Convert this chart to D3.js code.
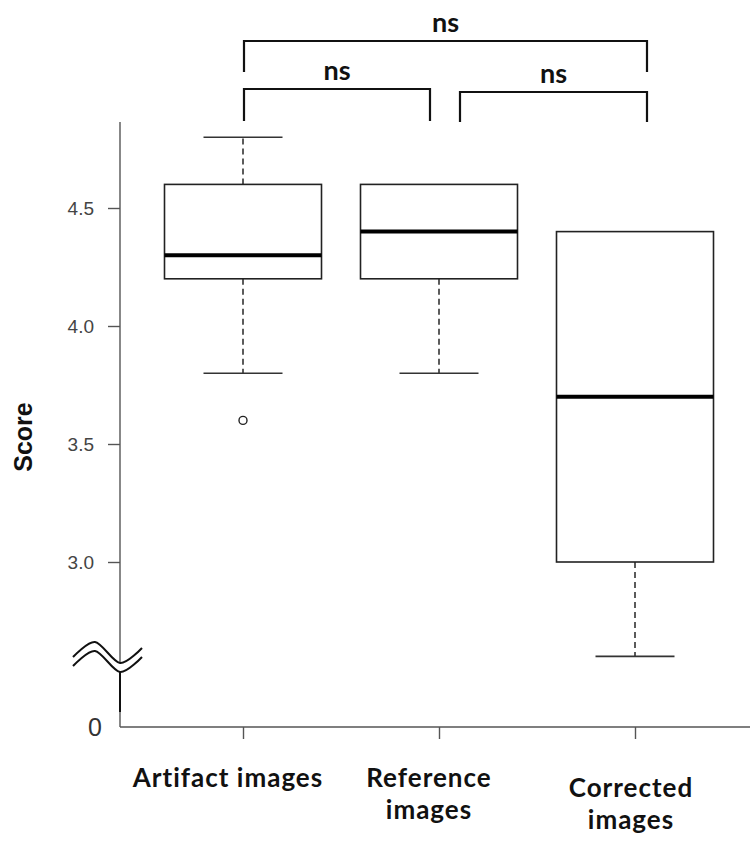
<!DOCTYPE html>
<html>
<head>
<meta charset="utf-8">
<script src="https://cdn.jsdelivr.net/npm/d3@7"></script>
<style>
  body { margin: 0; background: #fff; }
  svg { display: block; }
  .cat { font-family: Lato, "Noto Sans", sans-serif; font-weight: 700; font-size: 26px; letter-spacing: 1px; fill: #111; }
  .sig { font-family: Lato, "Noto Sans", sans-serif; font-weight: 700; font-size: 27px; fill: #111; }
</style>
</head>
<body>
<svg width="750" height="852"></svg>
<script>
const categories = ["Artifact images", "Reference images", "Corrected images"];
const labelLines = [["Artifact images"], ["Reference", "images"], ["Corrected", "images"]];
const q1 = [4.2, 4.2, 3.0];
const medians = [4.3, 4.4, 3.7];
const q3 = [4.6, 4.6, 4.4];
const whiskerLow = [3.8, 3.8, 2.6];
const whiskerHigh = [4.8, 4.6, 4.4];
const outliers = [[3.6], [], []];
const yTicks = [3.0, 3.5, 4.0, 4.5];
// pairwise comparisons: [from, to, label]
const comparisons = [
  ["Artifact images", "Corrected images", "ns"],
  ["Artifact images", "Reference images", "ns"],
  ["Reference images", "Corrected images", "ns"],
];

const svg = d3.select("svg");

const axisX = 120, axisTop = 122, axisBottom = 727;

const x = d3.scalePoint().domain(categories).range([243, 635]);
const y = d3.scaleLinear().domain([3.0, 4.5]).range([562, 208]);
const boxW = 157, capW = 79;

// y axis line + ticks
svg.append("line")
  .attr("x1", axisX).attr("x2", axisX)
  .attr("y1", axisTop).attr("y2", axisBottom)
  .attr("stroke", "#555").attr("stroke-width", 1.4);

const yAxis = svg.append("g")
  .attr("transform", `translate(${axisX},0)`)
  .call(d3.axisLeft(y).tickValues(yTicks).tickSize(12).tickPadding(14).tickFormat(d3.format(".1f")));
yAxis.select(".domain").remove();
yAxis.selectAll(".tick line").attr("stroke", "#555").attr("stroke-width", 1.4);
yAxis.selectAll(".tick text")
  .attr("fill", "#444")
  .style("font-family", "'Liberation Sans', Arial, sans-serif")
  .style("font-size", "19px");

// "0" at origin
svg.append("text")
  .attr("x", 95).attr("y", axisBottom + 9)
  .attr("text-anchor", "middle")
  .style("font-family", "'Liberation Sans', Arial, sans-serif")
  .style("font-size", "25px").attr("fill", "#333")
  .text("0");

// x axis
svg.append("line")
  .attr("x1", axisX).attr("x2", 750)
  .attr("y1", axisBottom).attr("y2", axisBottom)
  .attr("stroke", "#555").attr("stroke-width", 1.4);

const xAxis = svg.append("g")
  .attr("transform", `translate(0,${axisBottom})`)
  .call(d3.axisBottom(x).tickSize(12).tickFormat(""));
xAxis.select(".domain").remove();
xAxis.selectAll(".tick line").attr("stroke", "#555").attr("stroke-width", 1.4);

const labelShift = [-15, -10, -4];
const labelBase = [787, 787, 797];
categories.forEach((c, i) => {
  labelLines[i].forEach((line, j) => {
    svg.append("text")
      .attr("class", "cat")
      .attr("text-anchor", "middle")
      .attr("x", x(c) + labelShift[i])
      .attr("y", labelBase[i] + j * 32)
      .text(line);
  });
});

// axis break
const by = 663;
const wave = d3.line().curve(d3.curveCardinal.tension(0.1));
const upper = [[-47, -6], [-25, -21], [0, 0], [22, -15]].map(([dx, dy]) => [axisX + dx, by + dy]);
const lower = upper.map(([px, py]) => [px, py + 9]);
svg.append("path")
  .attr("d", wave(upper) + "L" + wave(lower.slice().reverse()).slice(1) + "Z")
  .attr("fill", "#fff").attr("stroke", "none");
[upper, lower].forEach(pts => {
  svg.append("path").attr("d", wave(pts))
    .attr("fill", "none").attr("stroke", "#111").attr("stroke-width", 2);
});
svg.append("line")
  .attr("x1", axisX).attr("x2", axisX)
  .attr("y1", by + 9).attr("y2", 712)
  .attr("stroke", "#111").attr("stroke-width", 2);

// boxes
categories.forEach((c, i) => {
  const cx = x(c);
  const g = svg.append("g");
  if (whiskerHigh[i] > q3[i]) {
    g.append("line").attr("x1", cx).attr("x2", cx)
      .attr("y1", y(q3[i])).attr("y2", y(whiskerHigh[i]))
      .attr("stroke", "#333").attr("stroke-width", 1.6).attr("stroke-dasharray", "6,4");
    g.append("line").attr("x1", cx - capW / 2).attr("x2", cx + capW / 2)
      .attr("y1", y(whiskerHigh[i])).attr("y2", y(whiskerHigh[i]))
      .attr("stroke", "#333").attr("stroke-width", 1.6);
  }
  if (whiskerLow[i] < q1[i]) {
    g.append("line").attr("x1", cx).attr("x2", cx)
      .attr("y1", y(q1[i])).attr("y2", y(whiskerLow[i]))
      .attr("stroke", "#333").attr("stroke-width", 1.6).attr("stroke-dasharray", "6,4");
    g.append("line").attr("x1", cx - capW / 2).attr("x2", cx + capW / 2)
      .attr("y1", y(whiskerLow[i])).attr("y2", y(whiskerLow[i]))
      .attr("stroke", "#333").attr("stroke-width", 1.6);
  }
  g.append("rect")
    .attr("x", cx - boxW / 2).attr("width", boxW)
    .attr("y", y(q3[i])).attr("height", y(q1[i]) - y(q3[i]))
    .attr("fill", "#fff").attr("stroke", "#222").attr("stroke-width", 1.6);
  g.append("line").attr("x1", cx - boxW / 2).attr("x2", cx + boxW / 2)
    .attr("y1", y(medians[i])).attr("y2", y(medians[i]))
    .attr("stroke", "#000").attr("stroke-width", 4);
  outliers[i].forEach(v => {
    g.append("circle").attr("cx", cx).attr("cy", y(v)).attr("r", 4)
      .attr("fill", "none").attr("stroke", "#222").attr("stroke-width", 1.4);
  });
});

// significance brackets
const bracketSpec = [
  { top: 41, bottom: 72, dl: 1, dr: 12 },
  { top: 89, bottom: 121, dl: 1, dr: -9 },
  { top: 92, bottom: 122, dl: 21, dr: 12 },
];
comparisons.forEach(([a, b, label], i) => {
  const s = bracketSpec[i];
  const x1 = x(a) + s.dl, x2 = x(b) + s.dr;
  svg.append("path")
    .attr("d", `M${x1},${s.bottom}V${s.top}H${x2}V${s.bottom}`)
    .attr("fill", "none").attr("stroke", "#111").attr("stroke-width", 2.2);
  svg.append("text")
    .attr("class", "sig")
    .attr("text-anchor", "middle")
    .attr("x", (x1 + x2) / 2)
    .attr("y", s.top - 9)
    .text(label);
});

// y title
svg.append("text")
  .attr("transform", "translate(32,437) rotate(-90)")
  .attr("text-anchor", "middle")
  .style("font-family", "'Liberation Sans', Arial, sans-serif")
  .style("font-weight", "700").style("font-size", "25px")
  .attr("fill", "#111")
  .text("Score");
</script>
</body>
</html>
